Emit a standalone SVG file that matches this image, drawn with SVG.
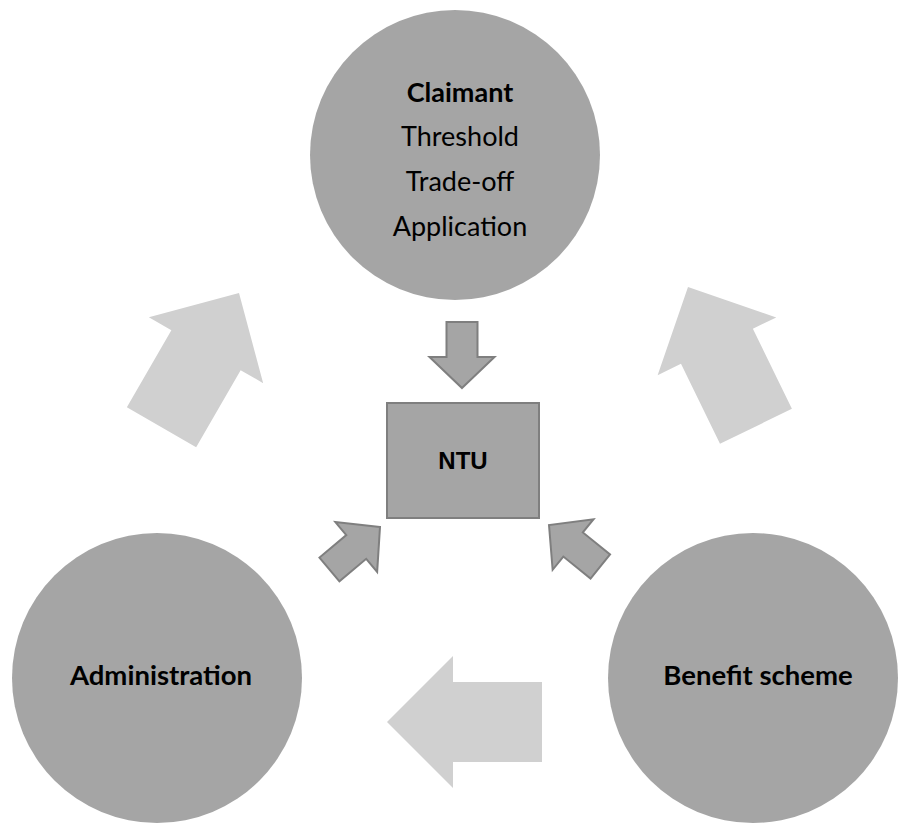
<svg xmlns="http://www.w3.org/2000/svg" width="899" height="824" viewBox="0 0 899 824">
<style>
.circ{fill:#a5a5a5}
.box{fill:#a5a5a5;stroke:#7f7f7f;stroke-width:2}
.big{fill:#d0d0d0}
.small{fill:#a5a5a5;stroke:#7f7f7f;stroke-width:2;stroke-linejoin:miter}
.t{font-family:Lato,"Open Sans","Liberation Sans",sans-serif;font-size:27px;fill:#000;text-anchor:middle}
.b{font-weight:bold}
.lg{font-size:27.5px}
.ntu{font-family:"Liberation Sans",Arial,sans-serif;font-weight:bold;font-size:24px;text-anchor:middle;fill:#000}
</style>
<defs>
<polygon id="bigArrow" points="0,0 -66,-66 -66,-40 -155,-40 -155,40 -66,40 -66,66"/>
<polygon id="smallArrow" points="0,0 -31,-32.5 -31,-15.5 -66,-15.5 -66,15.5 -31,15.5 -31,32.5"/>
</defs>
<rect width="899" height="824" fill="#fff"/>
<g id="connectors">
<use href="#bigArrow" class="big" transform="translate(387,722) rotate(180)"/>
<use href="#bigArrow" class="big" transform="translate(239,293) rotate(-60)"/>
<use href="#bigArrow" class="big" transform="translate(688,287) rotate(-116)"/>
<use href="#smallArrow" class="small" transform="translate(462,388) rotate(90)"/>
<use href="#smallArrow" class="small" transform="translate(380,527) rotate(-40)"/>
<use href="#smallArrow" class="small" transform="translate(549,525) rotate(-141)"/>
</g>
<g id="claimant">
<circle class="circ" cx="455" cy="155" r="145"/>
<text class="t b" x="460" y="102">Claimant</text>
<text class="t" x="460" y="146">Threshold</text>
<text class="t" x="460" y="191">Trade-off</text>
<text class="t" x="460" y="236">Application</text>
</g>
<g id="ntu">
<rect class="box" x="387" y="403" width="152" height="115"/>
<text class="ntu" x="463" y="469">NTU</text>
</g>
<g id="administration">
<circle class="circ" cx="157" cy="678" r="145"/>
<text class="t b lg" x="161" y="685">Administration</text>
</g>
<g id="benefit">
<circle class="circ" cx="753" cy="678" r="145"/>
<text class="t b lg" x="758" y="685">Benefit scheme</text>
</g>
</svg>
